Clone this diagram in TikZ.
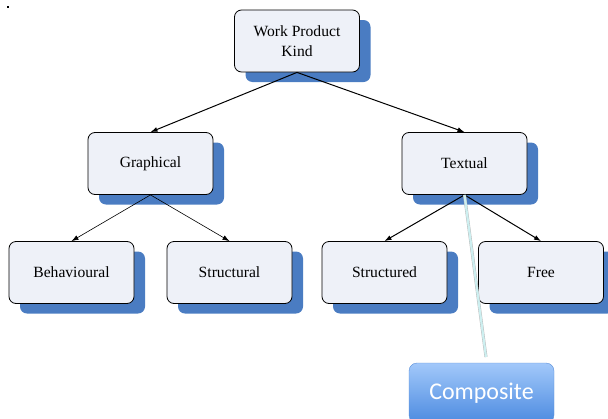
\documentclass[tikz,border=0pt]{standalone}
\usepackage{fontspec}
\setmainfont{Liberation Serif}
\newfontfamily\calfont{Carlito}
\usetikzlibrary{arrows.meta, positioning, shadows}
\definecolor{boxfill}{HTML}{EEF1F8}
\definecolor{shadeblue}{HTML}{4A7CC2}
\definecolor{compTop}{HTML}{A2C8FA}
\definecolor{compBottom}{HTML}{4C8BE0}
\definecolor{compEdge}{HTML}{5B8FD8}
\definecolor{linkcyan}{HTML}{CDEFF0}
\tikzset{
  kindbox/.style={rectangle,draw,rounded corners=7pt,align=center,fill=boxfill,line width=0.8pt,
    minimum width=125pt,minimum height=62pt,inner sep=2pt,
    font=\fontsize{15.6}{20}\selectfont,
    drop shadow={shadow xshift=11pt,shadow yshift=-10pt,fill=shadeblue,opacity=1}},
  line/.style={-{Latex[length=7pt,width=5pt]},line width=1pt},
  thinline/.style={-{Latex[length=7pt,width=5pt]},line width=0.6pt}
}

\begin{document}
\begin{tikzpicture}[x=1pt,y=-1pt]
\useasboundingbox (0,0) rectangle (608,418);
\clip (0,0) rectangle (608,418);
\fill (7,6) rectangle (9,8);
\node[kindbox] (kind) at (297,41) {Work Product\\Kind};
\node[kindbox] (graph) at (150.5,163.5) {Graphical};
\node[kindbox] (text) at (464.5,163.5) {Textual};
\node[kindbox] (behav) at (71.5,272.5) {Behavioural};
\node[kindbox] (struct) at (229.5,272.5) {Structural};
\node[kindbox] (structd) at (384.5,272.5) {Structured};
\node[kindbox] (free) at (541,272.5) {Free};
\node[rectangle,rounded corners=8pt,draw=compEdge,top color=compTop,bottom color=compBottom,
  minimum width=145pt,minimum height=60pt,text=white,font=\calfont\fontsize{24}{27}\selectfont]
  (comp) at (481.5,393) {Composite};
\coordinate (tip) at (486,357);
\draw[line] (kind.south) -- (graph.north);
\draw[line] (kind.south) -- (text.north);
\draw[thinline] (graph.south) -- (behav.north);
\draw[thinline] (graph.south) -- (struct.north);
\draw[line] (text.south) -- (structd.north);
\draw[line] (text.south) -- (free.north);
\draw[draw=gray!55,double=linkcyan,double distance=2.2pt,line width=0.4pt] (text.south) -- (tip);
\end{tikzpicture}
\end{document}
